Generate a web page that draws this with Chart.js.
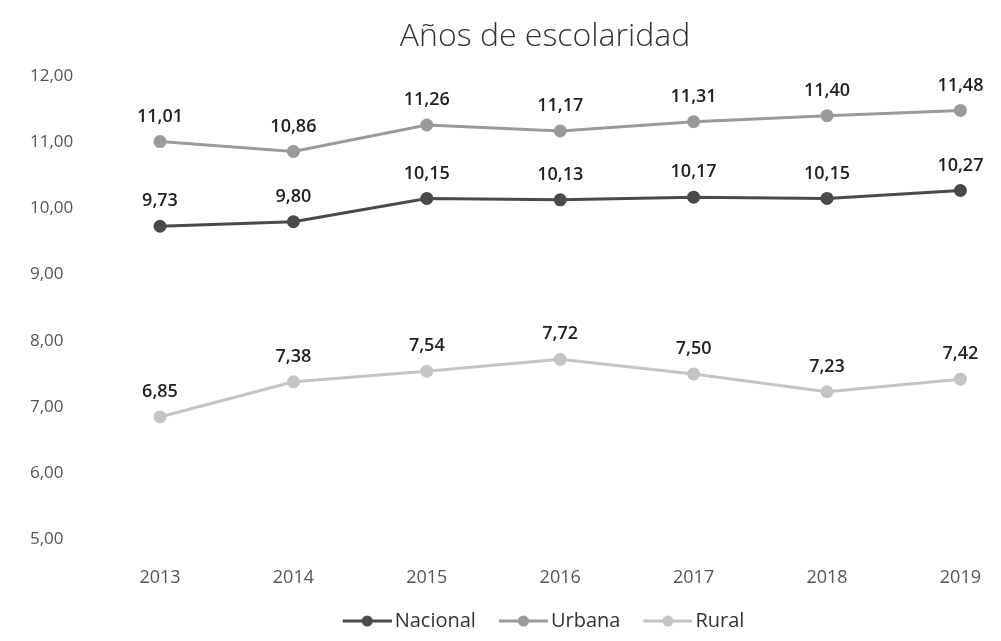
<!DOCTYPE html>
<html>
<head>
<meta charset="utf-8">
<script src="https://cdn.jsdelivr.net/npm/chart.js@4.4.0/dist/chart.umd.min.js"></script>
<style>
  html, body { margin: 0; padding: 0; background: #fff; }
  #wrap { width: 1001px; height: 641px; }
</style>
</head>
<body>
<div id="wrap"><canvas id="chart" width="1001" height="641"></canvas></div>
<script>
const years = ['2013', '2014', '2015', '2016', '2017', '2018', '2019'];
const nacional = [9.73, 9.80, 10.15, 10.13, 10.17, 10.15, 10.27];
const urbana = [11.01, 10.86, 11.26, 11.17, 11.31, 11.40, 11.48];
const rural = [6.85, 7.38, 7.54, 7.72, 7.50, 7.23, 7.42];
const seriesNames = ['Nacional', 'Urbana', 'Rural'];
const seriesColors = ['#4a4a4a', '#9a9a9a', '#c4c4c4'];
const chartTitle = 'Años de escolaridad';

function fmt(v) {
  return v.toFixed(2).replace('.', ',');
}

// line + dot image for legend entries; blank space on the left acts as item gap
function legendIcon(color) {
  const c = document.createElement('canvas');
  c.width = 77; c.height = 14;
  const g = c.getContext('2d');
  g.strokeStyle = color;
  g.lineWidth = 3;
  g.beginPath(); g.moveTo(28, 7); g.lineTo(77, 7); g.stroke();
  g.fillStyle = color;
  g.beginPath(); g.arc(52.5, 7, 5.5, 0, Math.PI * 2); g.fill();
  return c;
}

const valueLabels = {
  id: 'valueLabels',
  afterDatasetsDraw(chart) {
    const ctx = chart.ctx;
    ctx.save();
    ctx.font = '600 18px "Open Sans", sans-serif';
    ctx.fillStyle = '#222';
    ctx.textAlign = 'center';
    ctx.textBaseline = 'bottom';
    chart.data.datasets.forEach((ds, i) => {
      chart.getDatasetMeta(i).data.forEach((pt, j) => {
        ctx.fillText(fmt(ds.data[j]), pt.x, pt.y - 16);
      });
    });
    ctx.restore();
  }
};

// title drawn by hand so it sits where the original puts it
const topTitle = {
  id: 'topTitle',
  afterDraw(chart) {
    const ctx = chart.ctx;
    ctx.save();
    ctx.font = '300 32px "Open Sans", sans-serif';
    ctx.fillStyle = '#333';
    ctx.textAlign = 'center';
    ctx.textBaseline = 'middle';
    ctx.fillText(chartTitle, 545, 37);
    ctx.restore();
  }
};

const ctx = document.getElementById('chart').getContext('2d');
new Chart(ctx, {
  type: 'line',
  data: {
    labels: years,
    datasets: [nacional, urbana, rural].map((d, i) => ({
      label: seriesNames[i],
      data: d,
      borderColor: seriesColors[i],
      backgroundColor: seriesColors[i],
      borderWidth: 3,
      pointRadius: 5,
      pointBackgroundColor: seriesColors[i],
      pointBorderColor: seriesColors[i],
      tension: 0
    }))
  },
  options: {
    responsive: false,
    animation: false,
    layout: { padding: { left: 60, right: -5, top: 76, bottom: 0 } },
    plugins: {
      title: { display: false },
      legend: {
        position: 'bottom',
        labels: {
          usePointStyle: true,
          pointStyleWidth: 63,
          boxHeight: 14,
          color: '#333',
          font: { family: '"Open Sans", sans-serif', size: 20 },
          padding: 2,
          generateLabels(chart) {
            return chart.data.datasets.map((ds, i) => ({
              text: ds.label,
              pointStyle: legendIcon(seriesColors[i]),
              fillStyle: seriesColors[i],
              strokeStyle: seriesColors[i],
              fontColor: '#333',
              datasetIndex: i,
              hidden: false
            }));
          }
        }
      },
      tooltip: { enabled: false }
    },
    scales: {
      x: {
        offset: false,
        grid: { display: false },
        border: { display: false },
        ticks: { color: '#555', font: { family: '"Open Sans", sans-serif', size: 18 }, padding: 20 }
      },
      y: {
        min: 5,
        max: 12,
        grid: { display: false },
        border: { display: false },
        afterFit(scale) { scale.width = 100; },
        ticks: {
          stepSize: 1,
          color: '#555',
          mirror: true,
          padding: -130,
          font: { family: '"Open Sans", sans-serif', size: 17 },
          callback: v => fmt(v)
        }
      }
    }
  },
  plugins: [valueLabels, topTitle]
});
</script>
</body>
</html>
